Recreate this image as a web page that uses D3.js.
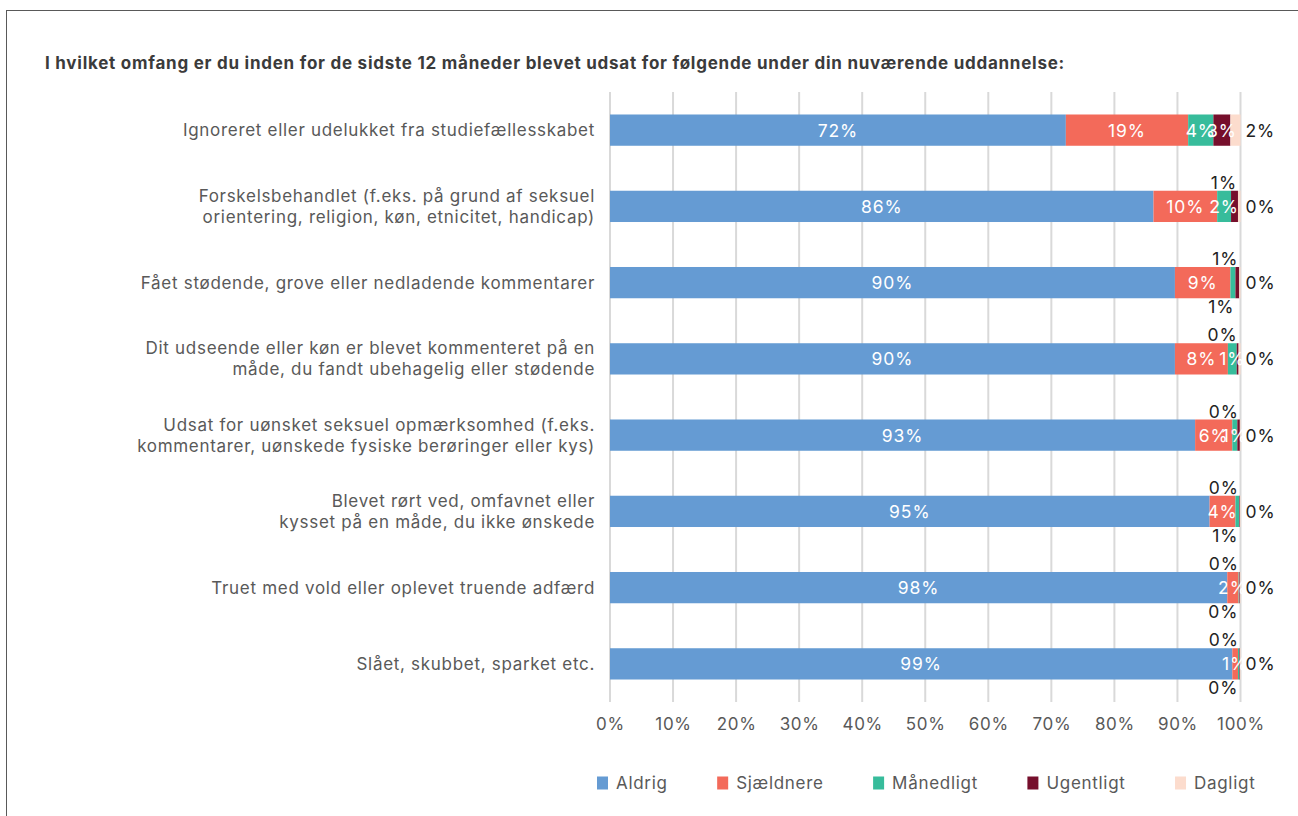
<!DOCTYPE html>
<html>
<head>
<meta charset="utf-8">
<script src="https://cdn.jsdelivr.net/npm/d3@7"></script>
<style>
  html, body { margin: 0; padding: 0; background: #fff; }
  svg { display: block; font-family: Inter, "Noto Sans", sans-serif; }
</style>
</head>
<body>
<svg id="chart" width="1298" height="816"></svg>
<script>
// ---- data ----
const title = "I hvilket omfang er du inden for de sidste 12 måneder blevet udsat for følgende under din nuværende uddannelse:";
const categories = [
  ["Ignoreret eller udelukket fra studiefællesskabet"],
  ["Forskelsbehandlet (f.eks. på grund af seksuel", "orientering, religion, køn, etnicitet, handicap)"],
  ["Fået stødende, grove eller nedladende kommentarer"],
  ["Dit udseende eller køn er blevet kommenteret på en", "måde, du fandt ubehagelig eller stødende"],
  ["Udsat for uønsket seksuel opmærksomhed (f.eks.", "kommentarer, uønskede fysiske berøringer eller kys)"],
  ["Blevet rørt ved, omfavnet eller", "kysset på en måde, du ikke ønskede"],
  ["Truet med vold eller oplevet truende adfærd"],
  ["Slået, skubbet, sparket etc."]
];
const seriesNames = ["Aldrig", "Sjældnere", "Månedligt", "Ugentligt", "Dagligt"];
const aldrig    = [72.3, 86.2, 89.6, 89.6, 92.8, 95.1, 97.9, 98.7];
const sjaeldnere= [19.4, 10.1,  8.8,  8.4,  5.9,  4.1,  1.8,  0.9];
const maanedligt= [ 4.0,  2.2,  0.8,  1.4,  0.8,  0.6,  0.1,  0.2];
const ugentligt = [ 2.7,  1.1,  0.6,  0.3,  0.4,  0.1,  0.1,  0.1];
const dagligt   = [ 1.6,  0.4,  0.2,  0.3,  0.1,  0.1,  0.1,  0.1];
const seriesValues = [aldrig, sjaeldnere, maanedligt, ugentligt, dagligt];
const tickValues = [0, 10, 20, 30, 40, 50, 60, 70, 80, 90, 100];
// label placement per series/row: in = inside, above, below, right
const labelPlacement = [
  ["in","in","in","in","in","in","in","in"],
  ["in","in","in","in","in","in","in","in"],
  ["in","in","below","in","in","below","below","below"],
  ["in","above","above","above","above","above","above","above"],
  ["right","right","right","right","right","right","right","right"]
];
const colors = ["#659bd3", "#f36a5a", "#37bc9b", "#760f2c", "#fcdccd"];

// ---- layout ----
const svg = d3.select("#chart");
const W = 1298, H = 816;
const margin = { left: 610, right: 57.5, top: 92, bottom: 114 };
const LS = 0.7; // letter spacing

// frame
svg.append("rect").attr("x", 6.5).attr("y", 10.5).attr("width", W + 10).attr("height", H + 10)
  .attr("fill", "none").attr("stroke", "#595959").attr("stroke-width", 1);

const tt = svg.append("text").attr("x", 45).attr("y", 68.5)
  .attr("font-size", 17).attr("font-weight", 700).attr("fill", "#3b3b3b")
  .text(title);
{
  const len = tt.node().getComputedTextLength();
  tt.attr("letter-spacing", Math.max(0, (1020 - len) / title.length));
}

const x = d3.scaleLinear().domain([0, 100]).range([margin.left, W - margin.right]);
const y = d3.scaleBand().domain(d3.range(categories.length)).range([margin.top, H - margin.bottom]).paddingInner(0.59).paddingOuter(0.295);

// grid
svg.append("g").selectAll("line").data(tickValues).join("line")
  .attr("x1", d => x(d)).attr("x2", d => x(d))
  .attr("y1", margin.top).attr("y2", H - margin.bottom)
  .attr("stroke", "#d9d9d9").attr("stroke-width", 2);

// axis
const axis = d3.axisBottom(x).tickValues(tickValues).tickFormat(d => d + "%").tickSize(0).tickPadding(16);
const ax = svg.append("g").attr("transform", `translate(0,${H - margin.bottom})`).call(axis);
ax.select(".domain").remove();
ax.selectAll("text").attr("font-size", 17).attr("letter-spacing", LS).attr("fill", "#595959").attr("font-family", "Inter, sans-serif");

// stacked data
const rows = categories.map((c, i) => {
  let cum = 0;
  return seriesValues.map((s, k) => {
    const seg = { row: i, k, v: s[i], x0: cum, x1: cum + s[i] };
    cum += s[i];
    return seg;
  });
});
const segs = rows.flat();

svg.append("g").selectAll("rect").data(segs).join("rect")
  .attr("x", d => x(d.x0)).attr("y", d => y(d.row))
  .attr("width", d => Math.max(0, x(d.x1) - x(d.x0)))
  .attr("height", y.bandwidth())
  .attr("fill", d => colors[d.k]);

// labels
const fmt = d => d3.format(".0f")(d) + "%";
const lg = svg.append("g").attr("font-size", 17.5).attr("letter-spacing", 0.9);
segs.forEach(d => {
  const p = labelPlacement[d.k][d.row];
  const cy = y(d.row) + y.bandwidth() / 2;
  const t = lg.append("text").text(fmt(d.v)).attr("dominant-baseline", "central");
  if (p === "in") {
    t.attr("x", (x(d.x0) + x(d.x1)) / 2).attr("y", cy).attr("text-anchor", "middle").attr("fill", "#fff");
  } else if (p === "above") {
    t.attr("x", x(d.x1) - 1).attr("y", cy - 24).attr("text-anchor", "end").attr("fill", "#222");
  } else if (p === "below") {
    t.attr("x", x(d.x1) - 1).attr("y", cy + 24).attr("text-anchor", "end").attr("fill", "#222");
  } else {
    t.attr("x", x(100) + 5).attr("y", cy).attr("text-anchor", "start").attr("fill", "#222");
  }
});

// category labels
const cg = svg.append("g").attr("font-size", 17).attr("letter-spacing", LS).attr("fill", "#595959").attr("text-anchor", "end");
categories.forEach((lines, i) => {
  const cy = y(i) + y.bandwidth() / 2;
  const lh = 21;
  lines.forEach((ln, j) => {
    cg.append("text").attr("x", 595).attr("y", cy + (j - (lines.length - 1) / 2) * lh)
      .attr("dominant-baseline", "central").text(ln);
  });
});

// legend
const leg = svg.append("g").attr("transform", "translate(597,783)");
let lx = 0;
seriesNames.forEach((n, k) => {
  const g = leg.append("g").attr("transform", `translate(${lx},0)`);
  g.append("rect").attr("x", 0).attr("y", -6.5).attr("width", 11).attr("height", 13).attr("fill", colors[k]);
  const t = g.append("text").attr("x", 19).attr("y", 0).attr("dominant-baseline", "central")
    .attr("font-size", 17).attr("letter-spacing", LS).attr("fill", "#595959").text(n);
  lx += 19 + t.node().getComputedTextLength() + 49.5;
});
</script>
</body>
</html>
